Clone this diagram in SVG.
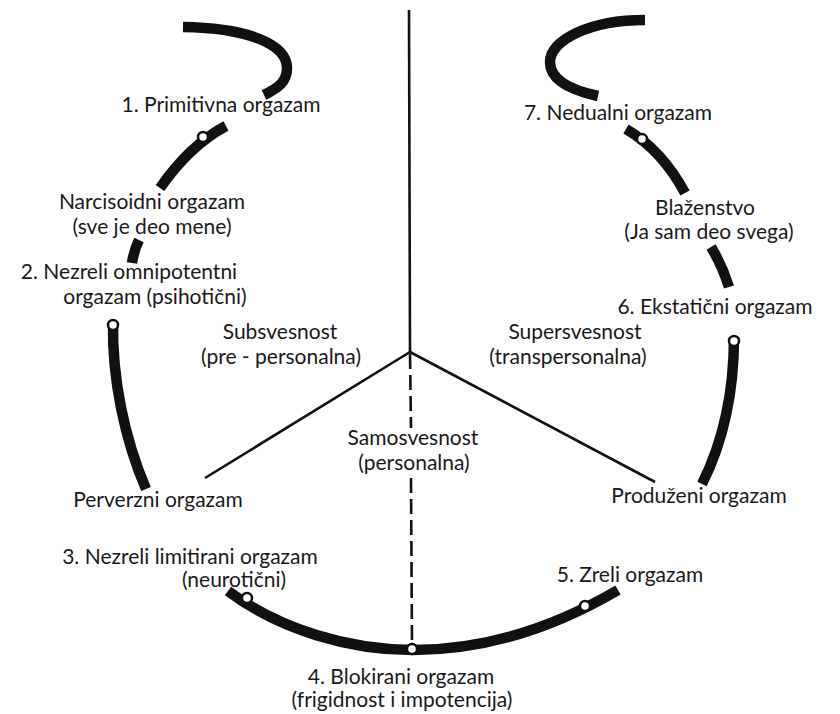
<svg xmlns="http://www.w3.org/2000/svg" width="840" height="714" viewBox="0 0 840 714">
<style>
.arc{fill:none;stroke:#111;stroke-width:10.5}
.ln{fill:none;stroke:#111;stroke-width:2.6}
.dash{fill:none;stroke:#111;stroke-width:2.6;stroke-dasharray:15 6}
.dot{fill:#fff;stroke:#111;stroke-width:2.5}
text{font-family:Lato,"Open Sans",sans-serif;font-size:21px;fill:#1a1a1a;text-anchor:middle}
</style>
<rect width="840" height="714" fill="#fff"/>
<g id="connectors">
<path class="ln" d="M409,10 L410,352"/>
<path class="dash" d="M410,354 L411,428"/>
<path class="dash" d="M411,478 L412,646"/>
<path class="ln" d="M410,352 L205,478"/>
<path class="ln" d="M410,352 L655,482"/>
</g>
<g id="ring">
<path class="arc" d="M183,27 C250,28 287,45 287,68 C287,82 278,88 264,95"/>
<path class="arc" d="M645,20 C590,20 550,40 550,62 C550,80 570,90 598,96"/>
<path class="arc" d="M226,126 Q190,145 160,188"/>
<path class="arc" d="M139,240 Q134,250 132,263"/>
<path class="arc" d="M113,322 C112,380 125,440 146,489"/>
<path class="arc" d="M228,591 C280,630 350,650 413,650 C480,650 550,630 618,590"/>
<path class="arc" d="M734,337 C734,390 724,440 702,484"/>
<path class="arc" d="M626,129 Q662,150 685,193"/>
<path class="arc" d="M711,247 Q722,265 729,287"/>
</g>
<g id="n1"><circle class="dot" cx="203" cy="137" r="5"/><text x="221" y="112">1. Primitivna orgazam</text></g>
<g id="n-narc"><text x="152" y="209">Narcisoidni orgazam</text><text x="152" y="234">(sve je deo mene)</text></g>
<g id="n2"><circle class="dot" cx="113" cy="325" r="5"/><text x="129" y="279">2. Nezreli omnipotentni</text><text x="155" y="304">orgazam (psihotični)</text></g>
<g id="n-perv"><text x="158" y="507">Perverzni orgazam</text></g>
<g id="n3"><circle class="dot" cx="247" cy="598" r="5"/><text x="190" y="564">3. Nezreli limitirani orgazam</text><text x="234" y="587">(neurotični)</text></g>
<g id="n4"><circle class="dot" cx="412" cy="649" r="5"/><text x="401" y="684">4. Blokirani orgazam</text><text x="402" y="707">(frigidnost i impotencija)</text></g>
<g id="n5"><circle class="dot" cx="585" cy="606" r="5"/><text x="630" y="582">5. Zreli orgazam</text></g>
<g id="n-prod"><text x="699" y="503">Produženi orgazam</text></g>
<g id="n6"><circle class="dot" cx="734" cy="341" r="5"/><text x="715" y="314">6. Ekstatični orgazam</text></g>
<g id="n-blaz"><text x="705" y="215">Blaženstvo</text><text x="709" y="239">(Ja sam deo svega)</text></g>
<g id="n7"><circle class="dot" cx="642" cy="139" r="5"/><text x="618" y="120">7. Nedualni orgazam</text></g>
<g id="sub"><text x="280" y="339">Subsvesnost</text><text x="281" y="364">(pre - personalna)</text></g>
<g id="super"><text x="575" y="339">Supersvesnost</text><text x="568" y="364">(transpersonalna)</text></g>
<g id="samo"><text x="413" y="445">Samosvesnost</text><text x="414" y="470">(personalna)</text></g>
</svg>
